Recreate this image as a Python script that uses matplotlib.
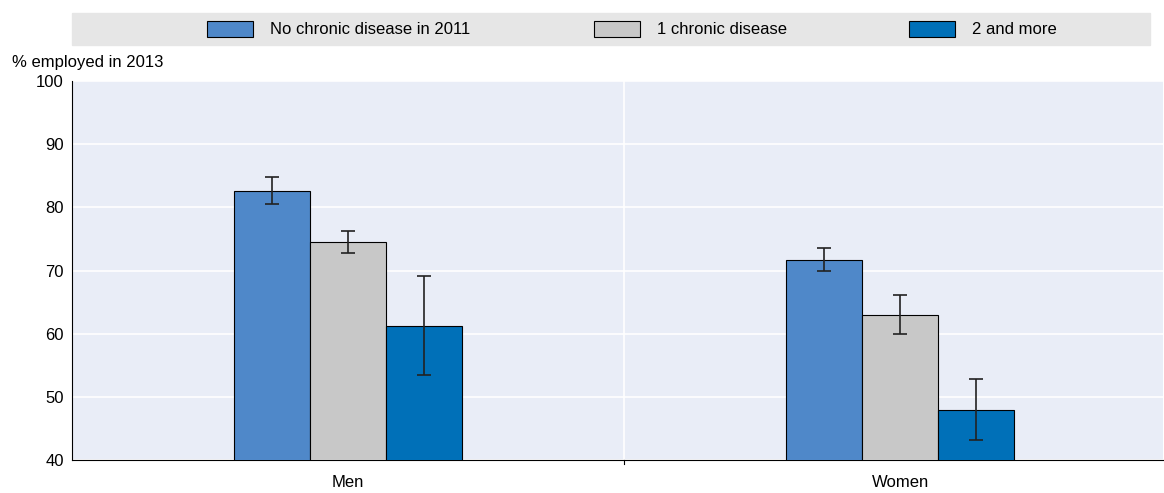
import matplotlib
matplotlib.use("Agg")
import matplotlib.pyplot as plt
import numpy as np

plt.rcParams['font.family'] = ['Liberation Sans Narrow', 'Liberation Sans', 'DejaVu Sans']

groups = ["Men", "Women"]
series = ["No chronic disease in 2011", "1 chronic disease", "2 and more"]
values = [[82.6, 71.7], [74.5, 63.0], [61.2, 47.9]]
err_low = [[80.5, 69.9], [72.8, 59.9], [53.4, 43.2]]
err_high = [[84.8, 73.6], [76.2, 66.2], [69.1, 52.8]]
colors = ["#4F88C9", "#C8C8C8", "#0070B8"]

fig = plt.figure(figsize=(11.64, 4.93), dpi=100)
ax = fig.add_axes([72/1164, 33/493, (1163-72)/1164, (460-81)/493])
ax.set_facecolor("#E9EDF7")

x = np.arange(len(groups))
w = 0.1375
handles = []
for i, (s, v) in enumerate(zip(series, values)):
    pos = x + (i - 1) * w
    lo = np.array(v) - np.array(err_low[i])
    hi = np.array(err_high[i]) - np.array(v)
    b = ax.bar(pos, v, w, bottom=0, color=colors[i], edgecolor="black", linewidth=0.8,
               yerr=[lo, hi], capsize=5, error_kw=dict(ecolor="#222222", elinewidth=1.2, capthick=1.2),
               label=s, zorder=3)
    handles.append(b)

ax.set_ylim(40, 100)
ax.set_xlim(-0.5, 1.476)
ax.set_yticks(range(40, 101, 10))
ax.yaxis.grid(True, color="white", linewidth=1.2, zorder=0)
ax.axvline(0.5, color="white", linewidth=1.2, zorder=1)
ax.set_xticks(x)
ax.set_xticklabels(groups, fontsize=12)
ax.tick_params(axis="y", labelsize=12, length=0, pad=6)
ax.tick_params(axis="x", length=0, pad=11)
for sp in ["top", "right"]:
    ax.spines[sp].set_visible(False)
ax.spines["left"].set_color("black")
ax.spines["bottom"].set_color("black")
ax.plot([0.5, 0.5], [39.3, 40], color="black", lw=0.8, clip_on=False)

fig.text(12/1164, 1 - 62/493, "% employed in 2013", fontsize=12, va="center", ha="left")

# legend band
fig.patches.append(plt.Rectangle((72/1164, 1 - 45/493), (1150-72)/1164, 32/493,
                                 transform=fig.transFigure, color="#E6E6E6", zorder=0))
leg_x = [200, 587, 902]
for h, s, lx in zip(handles, series, leg_x):
    fig.legend(handles=[h], labels=[s], loc="center left", bbox_to_anchor=(lx/1164, 1 - 29/493),
               frameon=False, fontsize=12, handlelength=2.8, handleheight=1.1,
               handletextpad=1.0, borderaxespad=0)

fig.savefig("out.png", dpi=100)
